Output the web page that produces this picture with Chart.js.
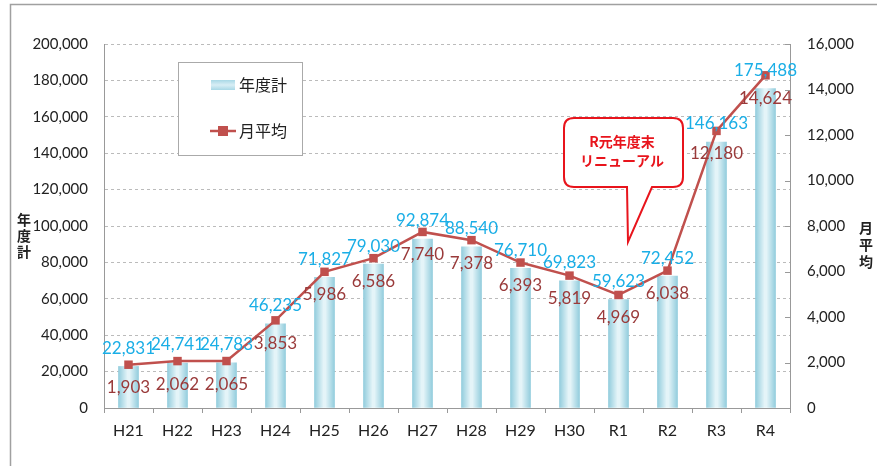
<!DOCTYPE html>
<html>
<head>
<meta charset="utf-8">
<script src="https://cdn.jsdelivr.net/npm/chart.js@4/dist/chart.umd.min.js"></script>
<style>
  html, body { margin: 0; padding: 0; background: #fff; }
  #wrap { width: 877px; height: 466px; position: relative; }
</style>
</head>
<body>
<div id="wrap"><canvas id="chart" width="877" height="466"></canvas></div>
<script>
// 年度 labels
var years = ["H21", "H22", "H23", "H24", "H25", "H26", "H27", "H28", "H29", "H30", "R1", "R2", "R3", "R4"];
// 年度計
var totals = [22831, 24741, 24783, 46235, 71827, 79030, 92874, 88540, 76710, 69823, 59623, 72452, 146163, 175488];
// 月平均
var monthly = [1903, 2062, 2065, 3853, 5986, 6586, 7740, 7378, 6393, 5819, 4969, 6038, 12180, 14624];

var FONT = "Lato, 'Noto Sans CJK JP', sans-serif";
var JP = "'Noto Sans CJK JP', sans-serif";
var BLUE_TXT = "#1aaee6";
var RED_TXT = "#9a3a3a";
var LINE_RED = "#c0504d";

function fmt(v) { return v.toLocaleString("en-US"); }

function barGradient(ctx, x) {
  var g = ctx.createLinearGradient(x - 10, 0, x + 10, 0);
  g.addColorStop(0, "#93cddd");
  g.addColorStop(0.45, "#e4f4f8");
  g.addColorStop(0.55, "#e4f4f8");
  g.addColorStop(1, "#93cddd");
  return g;
}

// data labels, legend box, callout and the frame
var extras = {
  id: "extras",
  beforeDraw: function(chart) {
    var ctx = chart.ctx;
    ctx.save();
    ctx.fillStyle = "#fff";
    ctx.fillRect(0, 0, chart.width, chart.height);
    ctx.strokeStyle = "#a0a0a0";
    ctx.lineWidth = 1.5;
    ctx.beginPath();
    ctx.moveTo(10.5, chart.height);
    ctx.lineTo(10.5, 4.5);
    ctx.lineTo(chart.width, 4.5);
    ctx.stroke();
    ctx.restore();
  },
  afterDatasetsDraw: function(chart) {
    var ctx = chart.ctx;
    var x = chart.scales.x, y = chart.scales.y, y1 = chart.scales.y1;
    ctx.save();
    ctx.font = "17px " + FONT;
    ctx.textAlign = "center";
    ctx.textBaseline = "middle";
    totals.forEach(function(v, i) {
      ctx.fillStyle = BLUE_TXT;
      ctx.fillText(fmt(v), x.getPixelForValue(i), y.getPixelForValue(v) - 18);
    });
    monthly.forEach(function(v, i) {
      ctx.fillStyle = RED_TXT;
      ctx.fillText(fmt(v), x.getPixelForValue(i), y1.getPixelForValue(v) + 23);
    });
    // small inner ticks on the right axis
    ctx.strokeStyle = "#999";
    ctx.lineWidth = 1;
    y1.ticks.forEach(function(t) {
      var py = Math.round(y1.getPixelForValue(t.value)) + 0.5;
      ctx.beginPath();
      ctx.moveTo(chart.chartArea.right - 5, py);
      ctx.lineTo(chart.chartArea.right, py);
      ctx.stroke();
    });
    ctx.restore();
  },
  afterDraw: function(chart) {
    var ctx = chart.ctx;
    ctx.save();
    // legend box
    ctx.fillStyle = "#fff";
    ctx.fillRect(178, 62, 124, 93);
    ctx.strokeStyle = "#aaa";
    ctx.lineWidth = 1;
    ctx.strokeRect(178.5, 62.5, 124, 93);
    var g = ctx.createLinearGradient(0, 80, 0, 90);
    g.addColorStop(0, "#a8d8e6");
    g.addColorStop(0.5, "#d8eef5");
    g.addColorStop(1, "#a8d8e6");
    ctx.fillStyle = g;
    ctx.fillRect(211, 80, 24, 10);
    ctx.strokeStyle = LINE_RED;
    ctx.lineWidth = 2.5;
    ctx.beginPath();
    ctx.moveTo(210, 131);
    ctx.lineTo(236, 131);
    ctx.stroke();
    ctx.fillStyle = LINE_RED;
    ctx.fillRect(218, 126, 10, 10);
    ctx.fillStyle = "#222";
    ctx.font = "16px " + JP;
    ctx.textAlign = "left";
    ctx.textBaseline = "middle";
    ctx.fillText("年度計", 239, 85);
    ctx.fillText("月平均", 239, 131);

    // axis titles
    ctx.font = "bold 14px " + JP;
    ctx.textAlign = "center";
    ["年", "度", "計"].forEach(function(c, i) { ctx.fillText(c, 24, 220 + i * 16); });
    ["月", "平", "均"].forEach(function(c, i) { ctx.fillText(c, 866, 228 + i * 17); });

    // callout
    ctx.strokeStyle = "#e8141c";
    ctx.lineWidth = 2;
    ctx.fillStyle = "#fff";
    var l = 564, t = 118, r = 683, b = 187, rad = 10;
    ctx.beginPath();
    ctx.moveTo(l + rad, t);
    ctx.lineTo(r - rad, t);
    ctx.quadraticCurveTo(r, t, r, t + rad);
    ctx.lineTo(r, b - rad);
    ctx.quadraticCurveTo(r, b, r - rad, b);
    ctx.lineTo(652, b);
    ctx.lineTo(628, 242);
    ctx.lineTo(627, b);
    ctx.lineTo(l + rad, b);
    ctx.quadraticCurveTo(l, b, l, b - rad);
    ctx.lineTo(l, t + rad);
    ctx.quadraticCurveTo(l, t, l + rad, t);
    ctx.closePath();
    ctx.fill();
    ctx.stroke();
    ctx.fillStyle = "#e8141c";
    ctx.font = "bold 14px " + JP;
    ctx.fillText("R元年度末", 622, 142);
    ctx.fillText("リニューアル", 622, 161);
    ctx.restore();
  }
};

new Chart(document.getElementById("chart"), {
  type: "bar",
  data: {
    labels: years,
    datasets: [{
      type: "line",
      label: "月平均",
      data: monthly,
      yAxisID: "y1",
      order: 0,
      borderColor: LINE_RED,
      borderWidth: 2.5,
      backgroundColor: LINE_RED,
      pointStyle: "rect",
      pointRadius: 6,
      pointBorderWidth: 0,
      tension: 0
    }, {
      type: "bar",
      label: "年度計",
      data: totals,
      yAxisID: "y",
      order: 1,
      barThickness: 20,
      backgroundColor: function(c) {
        var ch = c.chart;
        if (!ch.chartArea) return "#b7dfe9";
        return barGradient(ch.ctx, ch.scales.x.getPixelForValue(c.dataIndex));
      }
    }]
  },
  options: {
    responsive: false,
    animation: false,
    layout: { padding: { top: 44, left: 0, right: 0, bottom: 0 } },
    plugins: {
      legend: { display: false },
      tooltip: { enabled: false }
    },
    scales: {
      x: {
        offset: true,
        grid: { offset: true, drawOnChartArea: false, tickLength: 5, color: "#999" },
        border: { color: "#999" },
        ticks: { color: "#222", font: { family: FONT, size: 16 }, padding: 8 },
        afterFit: function(s) { s.height = 58; }
      },
      y: {
        position: "left",
        min: 0,
        max: 200000,
        ticks: { stepSize: 20000, color: "#222", padding: 16, font: { family: FONT, size: 15 },
                 callback: function(v) { return fmt(v); } },
        grid: { color: "#bbb", drawTicks: false },
        border: { color: "#999", dash: [3, 3] },
        afterFit: function(s) { s.width = 104; }
      },
      y1: {
        position: "right",
        min: 0,
        max: 16000,
        ticks: { stepSize: 2000, color: "#222", padding: 17, font: { family: FONT, size: 15 },
                 callback: function(v) { return fmt(v); } },
        grid: { drawOnChartArea: false, drawTicks: false },
        border: { color: "#999" },
        afterFit: function(s) { s.width = 87; }
      }
    }
  },
  plugins: [extras]
});
</script>
</body>
</html>
